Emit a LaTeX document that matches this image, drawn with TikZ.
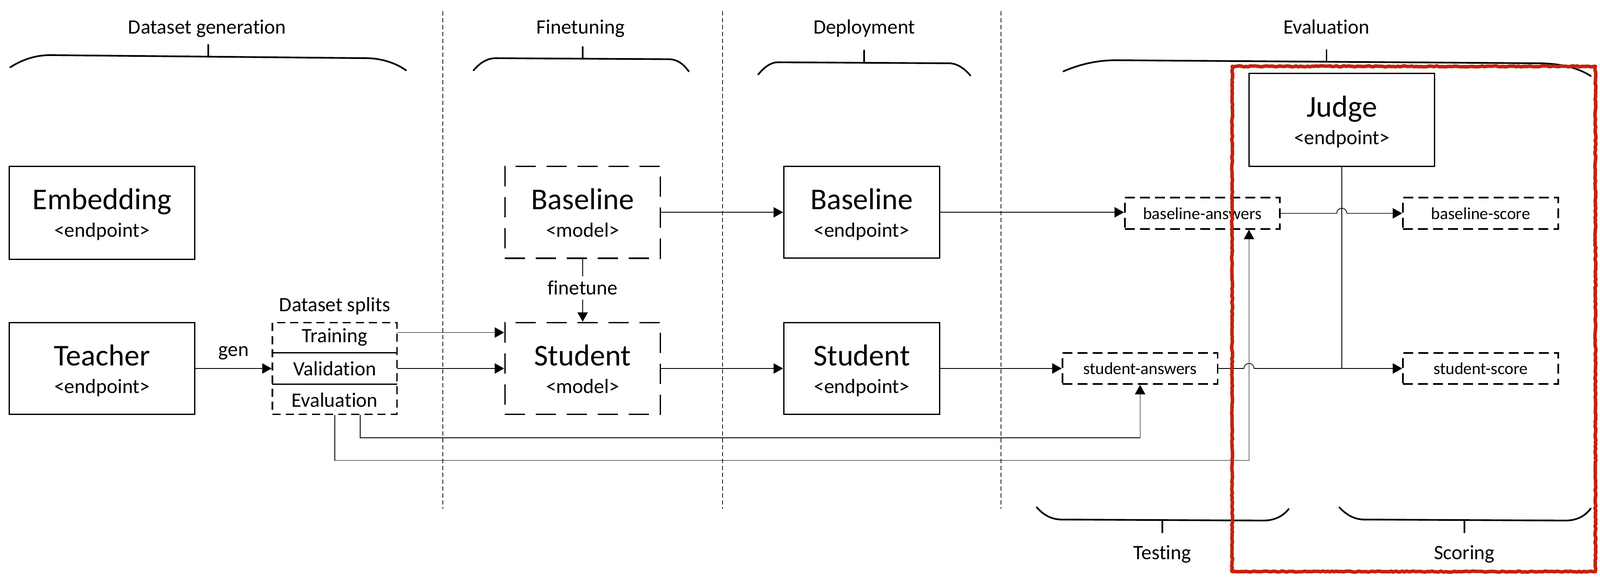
\documentclass[tikz,border=0pt]{standalone}
\usepackage{fontspec}
\setmainfont{Carlito}[Ligatures=NoCommon]
\usetikzlibrary{arrows.meta,calc,decorations.pathmorphing}
\newlength\U
\setlength\U{0.02371cm}
\definecolor{redmark}{RGB}{195,35,10}
\newcommand\fttl{\fontsize{20}{24}\selectfont}
\newcommand\fsubt{\fontsize{13.5}{16}\selectfont}
\newcommand\flab{\fontsize{13.5}{16}\selectfont}
\newcommand\fsm{\fontsize{11.2}{13}\selectfont}
\begin{document}
\begin{tikzpicture}[x=0.02371cm,y=-0.02371cm,
  solidbox/.style={draw,line width=0.85pt,inner sep=0,minimum width=182*\U,minimum height=91*\U},
  epbox/.style={draw,line width=0.85pt,inner sep=0,minimum width=153*\U,minimum height=90*\U},
  modelbox/.style={draw,line width=1pt,dash pattern=on 4.7mm off 2.5mm,inner sep=0,minimum width=152.4*\U,minimum height=90*\U},
  splitbox/.style={draw,line width=1pt,dash pattern=on 1.9mm off 1.15mm,inner sep=0,minimum width=122*\U,minimum height=90*\U},
  subbox/.style={inner sep=0,minimum width=122*\U,minimum height=30*\U,font=\flab},
  ansbox/.style={draw,line width=1.1pt,dash pattern=on 2.3mm off 1.2mm,inner sep=0,minimum width=152*\U,minimum height=30.5*\U,font=\fsm},
  ttltext/.style={anchor=base,font=\fttl,inner sep=0},
  subtext/.style={anchor=base,font=\fsubt,inner sep=0},
  lab/.style={anchor=base,font=\flab,inner sep=0},
  arr/.style={line width=0.45pt,-{Triangle[length=2.2mm,width=2.4mm]}},
  conn/.style={line width=0.45pt},
  bracepath/.style={line width=1.1pt,line cap=round},
  divider/.style={line width=0.4pt,black!85,dash pattern=on 1mm off 0.6mm}
]
\useasboundingbox (0,0) rectangle (1568,573);

% section dividers
\draw[divider] (434,11) -- (434,498.5);
\draw[divider] (708,11) -- (708,498.5);
\draw[divider] (981,11) -- (981,498.5);

% top labels and braces
\node[lab] (lDG) at (203,33) {Dataset generation};
\node[lab] (lFT) at (569,33) {Finetuning};
\node[lab] (lDP) at (847,33) {Deployment};
\node[lab] (lEV) at (1300,33) {Evaluation};
\draw[bracepath] (10,66) .. controls (22,58) and (36,54) .. (49,54) -- (359,57) .. controls (372,57) and (387,61) .. (398,69);
\draw[bracepath] (204,44) -- (204,55.5);
\draw[bracepath] (464,69) .. controls (470,62) and (477,57) .. (486,57) -- (655,58) .. controls (664,58) and (670,63) .. (675,70);
\draw[bracepath] (571,46) -- (571,57.5);
\draw[bracepath] (743,73) .. controls (749,66) and (755,61) .. (762.5,61) -- (930,62) .. controls (938,62) and (945,67) .. (951,74);
\draw[bracepath] (847,49.5) -- (847,61.5);
\draw[bracepath] (1042,70) .. controls (1058,63) and (1075,59) .. (1094,59) -- (1507,62) .. controls (1528,62) and (1546,66) .. (1559,74.5);
\draw[bracepath] (1300,49) -- (1300,60.5);

% bottom braces
\draw[bracepath] (1016,497) .. controls (1022,504) and (1030,509) .. (1040.6,509) -- (1238,510) .. controls (1250,510) and (1258,505) .. (1263,498.5);
\draw[bracepath] (1139,509.5) -- (1139,521.6);
\draw[bracepath] (1312.5,497) .. controls (1319,504) and (1327,509) .. (1337,509) -- (1534,510) .. controls (1546,510) and (1554,505) .. (1559,498);
\draw[bracepath] (1435,509.5) -- (1435,521.6);
\node[lab] (lTS) at (1139,548) {Testing};
\node[lab] (lSC) at (1435,548) {Scoring};

% endpoint boxes
\node[solidbox] (emb) at (100,208.5) {};
\node[ttltext] (embT) at ($(emb.north)+(0,43)$) {Embedding};
\node[subtext] (embS) at ($(emb.north)+(0,70)$) {<endpoint>};
\node[solidbox,minimum height=90*\U] (tea) at (100,361) {};
\node[ttltext] (teaT) at ($(tea.north)+(0,43)$) {Teacher};
\node[subtext] (teaS) at ($(tea.north)+(0,70)$) {<endpoint>};

% dataset splits
\node[splitbox] (splits) at (328,361) {};
\node[lab] (lDS) at (328,305) {Dataset splits};
\node[subbox] (tr) at ($(splits.north)+(0,15)$) {Training};
\node[subbox] (va) at (splits.center) {Validation};
\node[subbox] (evn) at ($(splits.south)+(0,-15)$) {Evaluation};
\draw[line width=1pt] (tr.south west) -- (tr.south east);
\draw[line width=1pt] (va.south west) -- (va.south east);

% models
\node[modelbox] (bm) at (571,208) {};
\node[ttltext] (bmT) at ($(bm.north)+(0,43)$) {Baseline};
\node[subtext] (bmS) at ($(bm.north)+(0,70)$) {<model>};
\node[modelbox] (stu) at (571,361) {};
\node[ttltext] (stuT) at ($(stu.north)+(0,43)$) {Student};
\node[subtext] (stuS) at ($(stu.north)+(0,70)$) {<model>};

% deployed endpoints
\node[epbox] (be) at (844.5,208) {};
\node[ttltext] (beT) at ($(be.north)+(0,43)$) {Baseline};
\node[subtext] (beS) at ($(be.north)+(0,70)$) {<endpoint>};
\node[epbox] (se) at (844.5,361) {};
\node[ttltext] (seT) at ($(se.north)+(0,43)$) {Student};
\node[subtext] (seS) at ($(se.north)+(0,70)$) {<endpoint>};

% judge
\node[solidbox] (judge) at (1315,117.5) {};
\node[ttltext] (judgeT) at ($(judge.north)+(0,43)$) {Judge};
\node[subtext] (judgeS) at ($(judge.north)+(0,70)$) {<endpoint>};

% answers and scores
\node[ansbox] (ba) at (1178.3,209) {baseline-answers};
\node[ansbox] (sa) at (1117.3,361) {student-answers};
\node[ansbox] (bs) at (1451,209) {baseline-score};
\node[ansbox] (ss) at (1451,361) {student-score};

% helper coordinates
\coordinate (baIn) at ($(ba.south)+(45.7,0)$);
\coordinate (ev1) at ($(splits.south)+(25,0)$);
\coordinate (low1) at (0,429);
\coordinate (low2) at (0,451);

% connectors
\draw[arr] (tea.east) -- node[lab,pos=0.5,above=5.5pt] (genl) {gen} (tea.east -| splits.west);
\draw[arr] ($(tr.east)+(0,-4.5)$) -- ($(tr.east -| stu.west)+(0,-4.5)$);
\draw[arr] (va.east) -- (va.east -| stu.west);
\draw[arr] (bm.south) -- node[pos=0.46,fill=white,inner xsep=1pt,inner ysep=3pt,font=\flab] (ftl) {finetune} (stu.north);
\draw[arr] (bm.east) -- (be.west);
\draw[arr] (stu.east) -- (se.west);
\draw[arr] (be.east) -- (be.east -| ba.west);
\draw[arr] (se.east) -- (sa.west);
\draw[conn] (judge.south) -- (judge.south |- ss.west);
\draw[arr] (ba.east) -- ($(judge.south |- ba.east)+(-5,0)$) arc[start angle=180,end angle=0,radius=5*\U] -- (bs.west);
\draw[arr] (sa.east) -- ($(baIn |- sa.east)+(-5,0)$) arc[start angle=180,end angle=0,radius=5*\U] -- (ss.west);
\draw[arr] (ev1) -- (ev1 |- low1) -| (sa.south);
\draw[arr] (splits.south) -- (splits.south |- low2) -- (baIn |- low2) -- (baIn);

% red highlight
\draw[redmark,line width=2.3pt,line join=round,decorate,decoration={random steps,segment length=1.5pt,amplitude=0.35pt}] (1207.5,65) rectangle (1563.5,560);
\end{tikzpicture}
\end{document}
